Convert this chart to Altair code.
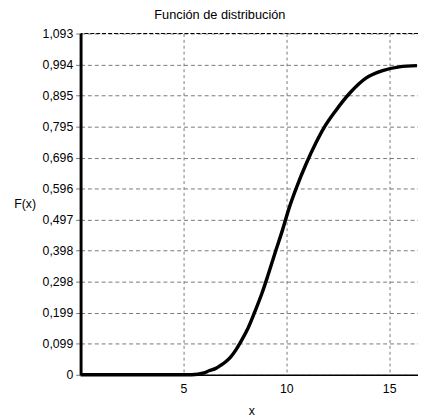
import altair as alt
import pandas as pd

# Curve
x_vals = [0.0, 5.4, 6.0, 6.24, 6.55, 6.82, 7.05, 7.29, 7.55, 7.77, 8.10, 8.48, 8.82, 9.10, 9.44,
          9.82, 10.15, 10.53, 10.96, 11.44, 11.82, 12.39, 13.11, 13.87, 14.68, 15.49, 16.35]
f_vals = [0.0, 0.0, 0.006, 0.013, 0.020, 0.031, 0.042, 0.057, 0.080, 0.104, 0.144, 0.204, 0.262, 0.317, 0.388,
          0.465, 0.537, 0.606, 0.675, 0.743, 0.790, 0.845, 0.904, 0.950, 0.974, 0.986, 0.990]

y_max = 1.093
y_tick_labels = ["0", "0,099", "0,199", "0,298", "0,398", "0,497", "0,596",
                 "0,696", "0,795", "0,895", "0,994", "1,093"]
y_tick_values = [i * y_max / 11 for i in range(12)]
x_tick_values = [5, 10, 15]
x_max = 16.4

df = pd.DataFrame({"x": x_vals, "F": f_vals})

font = "Liberation Sans"
label_arr = "[" + ",".join("'" + s + "'" for s in y_tick_labels) + "]"

x_enc = alt.X(
    "x:Q",
    scale=alt.Scale(domain=[0, x_max], nice=False, zero=False),
    axis=alt.Axis(
        values=x_tick_values, title="x", ticks=False, labelPadding=8,
        labelOverlap=False,
        domainColor="black", domainWidth=1.5,
        grid=True, gridColor="#777777", gridDash=[3, 3], gridWidth=1,
        labelFont=font, labelFontSize=12.5, labelColor="black",
        titleFont=font, titleFontSize=12.5, titleFontWeight="normal", titleColor="black",
        titleX=174, titleY=40, titleBaseline="alphabetic", titleAlign="center",
    ),
)
y_axis = alt.Axis(
    values=y_tick_values, title="F(x)",
    labelExpr=label_arr + "[round(datum.value*11/" + str(y_max) + ")]",
    labelOverlap=False, labelBound=False, labelFlush=False,
    tickSize=5, tickColor="#777777", labelPadding=3,
    domainColor="black", domainWidth=3,
    grid=True, gridColor="#777777", gridDash=[4, 3], gridWidth=1,
    labelFont=font, labelFontSize=12.5, labelColor="black",
    titleFont=font, titleFontSize=12.5, titleFontWeight="normal", titleColor="black",
    titleAngle=0, titleAlign="center", titleBaseline="middle",
    titleX=-57, titleY=173,
)
y_scale = alt.Scale(domain=[0, y_max], nice=False)

curve = alt.Chart(df).mark_line(
    color="black", strokeWidth=3.5, interpolate="monotone"
).encode(x=x_enc, y=alt.Y("F:Q", scale=y_scale, axis=y_axis))

top = alt.Chart(pd.DataFrame({"F": [y_max]})).mark_rule(
    color="black", strokeDash=[4, 2], strokeWidth=1.2
).encode(y=alt.Y("F:Q", scale=y_scale, axis=y_axis))

chart = alt.layer(curve, top).properties(
    width=344, height=348,
    title=alt.TitleParams(
        "Función de distribución", font=font, fontSize=13, fontWeight="normal",
        color="black", anchor="middle", dx=-30, dy=4, offset=0, baseline="alphabetic",
    ),
    autosize=alt.AutoSizeParams(type="none"),
    padding={"left": 74, "top": 22, "right": 0, "bottom": 39},
).configure_view(stroke=None).configure_axis(labelOverlap=False)

chart.save("out.html", embed_options={"renderer": "svg", "actions": False})
